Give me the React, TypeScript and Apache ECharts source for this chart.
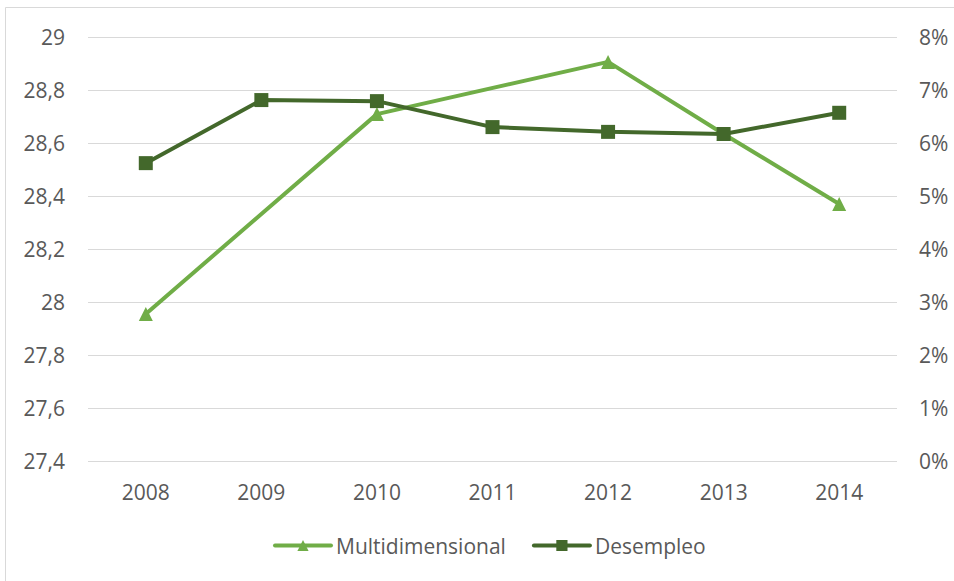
import React, { useEffect, useRef } from "react";
import * as echarts from "echarts";

const years = ["2008", "2009", "2010", "2011", "2012", "2013", "2014"];
const multidimensional: (number | null)[] = [27.955, null, 28.709, null, 28.906, 28.634, 28.37];
const desempleo: number[] = [0.0562, 0.0681, 0.0679, 0.063, 0.0621, 0.0617, 0.0657];

const FONT = "'Open Sans', 'Noto Sans', sans-serif";
const TXT = "#595959";
const FS = 21;

export default function App() {
  const ref = useRef<HTMLDivElement>(null);
  useEffect(() => {
    if (!ref.current) return;
    const chart = echarts.init(ref.current, undefined, { renderer: "svg" });
    chart.setOption({
      animation: false,
      backgroundColor: "#ffffff",
      textStyle: { fontFamily: FONT },
      graphic: [
        {
          type: "rect",
          shape: { x: 5.5, y: 7.5, width: 1000, height: 1000 },
          style: { fill: "none", stroke: "#d9d9d9", lineWidth: 1 },
          silent: true,
        },
      ],
      grid: { left: 88, right: 57, top: 37, bottom: 120 },
      legend: {
        top: 530,
        left: 268,
        itemWidth: 56,
        itemHeight: 14,
        itemGap: 26,
        lineStyle: { width: 4, cap: "round" },
        textStyle: { color: TXT, fontSize: FS, fontFamily: FONT },
        data: ["Multidimensional", "Desempleo"],
      },
      xAxis: {
        type: "category",
        data: years,
        boundaryGap: true,
        axisLine: { show: false },
        axisTick: { show: false },
        axisLabel: { color: TXT, fontSize: FS, margin: 20, fontFamily: FONT },
      },
      yAxis: [
        {
          type: "value",
          min: 27.4,
          max: 29,
          interval: 0.2,
          axisLine: { show: false },
          axisTick: { show: false },
          splitLine: { lineStyle: { color: "#d9d9d9", width: 1 } },
          axisLabel: {
            color: TXT,
            fontSize: FS,
            margin: 23,
            fontFamily: FONT,
            formatter: (v: number) => parseFloat(v.toFixed(2)).toString().replace(".", ","),
          },
        },
        {
          type: "value",
          min: 0,
          max: 0.08,
          interval: 0.01,
          axisLine: { show: false },
          axisTick: { show: false },
          splitLine: { show: false },
          axisLabel: {
            color: TXT,
            fontSize: FS,
            margin: 22,
            fontFamily: FONT,
            formatter: (v: number) => Math.round(v * 100) + "%",
          },
        },
      ],
      series: [
        {
          name: "Multidimensional",
          type: "line",
          yAxisIndex: 0,
          data: multidimensional,
          connectNulls: true,
          symbol: "triangle",
          symbolSize: 14,
          color: "#70AD47",
          lineStyle: { width: 4, color: "#70AD47" },
          itemStyle: { color: "#70AD47" },
          z: 2,
        },
        {
          name: "Desempleo",
          type: "line",
          yAxisIndex: 1,
          data: desempleo,
          symbol: "rect",
          symbolSize: 14,
          color: "#43682B",
          lineStyle: { width: 4, color: "#43682B" },
          itemStyle: { color: "#43682B" },
          z: 3,
        },
      ],
    });
    return () => chart.dispose();
  }, []);
  return (
    <div
      ref={ref}
      style={{ position: "absolute", left: 0, top: 0, width: 954, height: 581 }}
    />
  );
}
